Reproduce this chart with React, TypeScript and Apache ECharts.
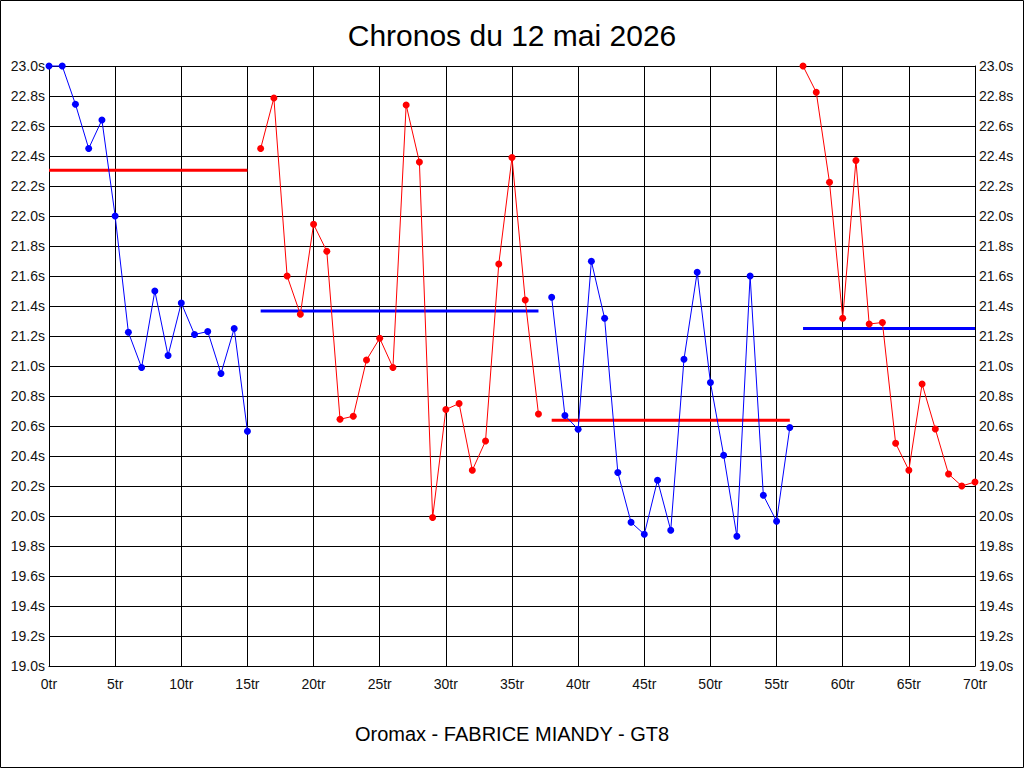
import React, { useEffect, useRef } from "react";
import * as echarts from "echarts";

const titleText = "Chronos du 12 mai 2026";
const footerText = "Oromax - FABRICE MIANDY - GT8";

const seg1Laps = [0, 1, 2, 3, 4, 5, 6, 7, 8, 9, 10, 11, 12, 13, 14, 15];
const seg1Times = [23.0, 23.0, 22.745, 22.45, 22.64, 22.0, 21.225, 20.99, 21.5, 21.07, 21.42, 21.21, 21.23, 20.95, 21.25, 20.565];

const seg2Laps = [16, 17, 18, 19, 20, 21, 22, 23, 24, 25, 26, 27, 28, 29, 30, 31, 32, 33, 34, 35, 36, 37];
const seg2Times = [22.45, 22.787, 21.6, 21.345, 21.945, 21.765, 20.645, 20.665, 21.04, 21.185, 20.99, 22.74, 22.36, 19.99, 20.71, 20.75, 20.305, 20.5, 21.68, 22.39, 21.44, 20.68];

const seg3Laps = [38, 39, 40, 41, 42, 43, 44, 45, 46, 47, 48, 49, 50, 51, 52, 53, 54, 55, 56];
const seg3Times = [21.458, 20.67, 20.578, 21.698, 21.318, 20.29, 19.958, 19.878, 20.238, 19.905, 21.045, 21.625, 20.89, 20.405, 19.865, 21.6, 20.138, 19.965, 20.59];

const seg4Laps = [57, 58, 59, 60, 61, 62, 63, 64, 65, 66, 67, 68, 69, 70];
const seg4Times = [23.0, 22.825, 22.225, 21.318, 22.37, 21.28, 21.29, 20.485, 20.305, 20.88, 20.58, 20.28, 20.2, 20.227];

// reference lines: [startLap, endLap, value]
const refLine1 = [0, 15, 22.305];
const refLine2 = [16, 37, 21.367];
const refLine3 = [38, 56, 20.638];
const refLine4 = [57, 70, 21.25];

const BLUE = "#0000ff";
const RED = "#ff0000";
const FONT = "Liberation Sans, Arial, sans-serif";

function zip(xs: number[], ys: number[]) {
  return xs.map((x, i) => [x, ys[i]]);
}

function pointSeries(laps: number[], times: number[], color: string) {
  return {
    type: "line",
    data: zip(laps, times),
    symbol: "circle",
    symbolSize: 7,
    showSymbol: true,
    clip: false,
    lineStyle: { color, width: 1 },
    itemStyle: { color },
    z: 3,
  };
}

function refSeries(r: number[], color: string) {
  return {
    type: "line",
    data: [
      [r[0], r[2]],
      [r[1], r[2]],
    ],
    symbol: "none",
    lineStyle: { color, width: 3 },
    z: 2,
  };
}

export default function App() {
  const ref = useRef<HTMLDivElement>(null);
  useEffect(() => {
    document.body.style.margin = "0";
    if (!ref.current) return;
    const chart = echarts.init(ref.current, undefined, { renderer: "svg" });
    const yLabel = {
      fontSize: 14,
      fontFamily: FONT,
      color: "#111",
      margin: 4,
      formatter: (v: number) => v.toFixed(1) + "s",
    };
    chart.setOption({
      animation: false,
      backgroundColor: "#fff",
      title: [
        {
          text: titleText,
          left: "center",
          top: 15,
          textStyle: { fontSize: 30, fontWeight: "normal", fontFamily: FONT, color: "#000" },
        },
        {
          text: footerText,
          left: "center",
          top: 719,
          textStyle: { fontSize: 20, fontWeight: "normal", fontFamily: FONT, color: "#000" },
        },
      ],
      graphic: [
        {
          type: "rect",
          shape: { x: 0.5, y: 0.5, width: 1023, height: 767 },
          style: { fill: "none", stroke: "#000", lineWidth: 1 },
          silent: true,
          z: 100,
        },
      ],
      grid: { left: 49, right: 49, top: 66, bottom: 102, containLabel: false },
      xAxis: {
        type: "value",
        min: 0,
        max: 70,
        interval: 5,
        axisLine: { show: true, lineStyle: { color: "#000", width: 1 } },
        axisTick: { show: false },
        splitLine: { show: true, lineStyle: { color: "#000", width: 1 } },
        axisLabel: {
          fontSize: 14,
          fontFamily: FONT,
          color: "#111",
          margin: 11,
          formatter: (v: number) => v + "tr",
        },
      },
      yAxis: [
        {
          type: "value",
          min: 19,
          max: 23,
          interval: 0.2,
          position: "left",
          axisLine: { show: true, lineStyle: { color: "#000", width: 1 } },
          axisTick: { show: false },
          splitLine: { show: true, lineStyle: { color: "#000", width: 1 } },
          axisLabel: yLabel,
        },
        {
          type: "value",
          min: 19,
          max: 23,
          interval: 0.2,
          position: "right",
          axisLine: { show: true, lineStyle: { color: "#000", width: 1 } },
          axisTick: { show: false },
          splitLine: { show: false },
          axisLabel: yLabel,
        },
      ],
      series: [
        refSeries(refLine1, RED),
        refSeries(refLine2, BLUE),
        refSeries(refLine3, RED),
        refSeries(refLine4, BLUE),
        pointSeries(seg1Laps, seg1Times, BLUE),
        pointSeries(seg2Laps, seg2Times, RED),
        pointSeries(seg3Laps, seg3Times, BLUE),
        pointSeries(seg4Laps, seg4Times, RED),
      ],
    });
    return () => chart.dispose();
  }, []);
  return <div ref={ref} style={{ width: 1024, height: 768 }} />;
}
